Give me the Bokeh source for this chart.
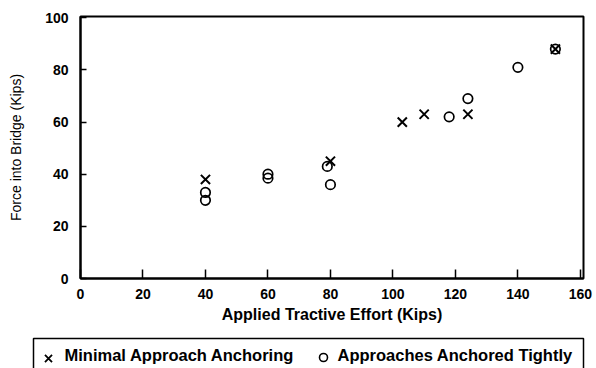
from bokeh.plotting import figure
from bokeh.models import Range1d, FixedTicker
from bokeh.layouts import column
from bokeh.core.properties import value
from bokeh.embed import file_html
from bokeh.resources import INLINE

# Data
minimal_x = [40, 80, 103, 110, 124, 152]
minimal_y = [38, 45, 60, 63, 63, 88]
tight_x = [40, 40, 60, 60, 79, 80, 118, 124, 140, 152]
tight_y = [33, 30, 40, 38.5, 43, 36, 62, 69, 81, 88]

x_ticks = [0, 20, 40, 60, 80, 100, 120, 140, 160]
y_ticks = [0, 20, 40, 60, 80, 100]

series_labels = ["Minimal Approach Anchoring", "Approaches Anchored Tightly"]

FONT = "Liberation Sans"

p = figure(width=596, height=336, output_backend="svg", toolbar_location=None,
           x_range=Range1d(0, 161), y_range=Range1d(0, 100.5),
           min_border_left=80, min_border_right=13, min_border_top=16, min_border_bottom=58)

p.background_fill_color = "white"
p.border_fill_color = "white"
p.outline_line_color = "black"
p.outline_line_width = 2
p.xgrid.visible = False
p.ygrid.visible = False

p.xaxis.ticker = FixedTicker(ticks=x_ticks)
p.yaxis.ticker = FixedTicker(ticks=y_ticks)
for ax in (p.xaxis, p.yaxis):
    ax.axis_line_color = "black"
    ax.axis_line_width = 2
    ax.major_tick_line_color = "black"
    ax.major_tick_line_width = 1.5
    ax.minor_tick_line_color = None
    ax.major_tick_out = 0
    ax.major_label_text_font = FONT
    ax.major_label_text_font_style = "bold"
    ax.major_label_text_font_size = "14px"
    ax.major_label_text_color = "black"
    ax.axis_label_text_font = FONT
    ax.axis_label_text_color = "black"

p.xaxis.major_tick_in = 9
p.yaxis.major_tick_in = 6
p.xaxis.major_label_standoff = 10
p.yaxis.major_label_standoff = 12

p.xaxis.axis_label = "Applied Tractive Effort (Kips)"
p.xaxis.axis_label_text_font_size = "16px"
p.xaxis.axis_label_text_font_style = "bold"
p.xaxis.axis_label_standoff = 4

p.yaxis.axis_label = "Force into Bridge (Kips)"
p.yaxis.axis_label_text_font_size = "14px"
p.yaxis.axis_label_text_font_style = "normal"
p.yaxis.axis_label_standoff = 18

p.scatter(minimal_x, minimal_y, marker="x", size=13, line_color="black", line_width=2)
p.scatter(tight_x, tight_y, marker="circle", size=9.5, fill_color=None,
          line_color="black", line_width=1.7)

# Legend strip drawn below the chart, in page-pixel coordinates
lg = figure(width=596, height=32, output_backend="svg", toolbar_location=None,
            x_range=Range1d(0, 596), y_range=Range1d(0, 32),
            min_border=0, min_border_left=0, min_border_right=0,
            min_border_top=0, min_border_bottom=0)
lg.frame_align = False
lg.axis.visible = False
lg.grid.visible = False
lg.outline_line_color = None
lg.background_fill_color = "white"
lg.border_fill_color = "white"
lg.quad(left=[33], right=[583], bottom=[-5], top=[30], fill_color=None,
        line_color="black", line_width=1.5)
lg.scatter([48], [10], marker="x", size=10, line_color="black", line_width=1.8)
lg.scatter([323], [11], marker="circle", size=8, fill_color=None,
           line_color="black", line_width=1.6)
lg.text(x=[64, 337], y=[14, 14], text=series_labels, text_baseline="middle",
        text_align="left", text_font=value(FONT), text_font_size="16.5px",
        text_font_style="bold", text_color="black")

layout = column(p, lg, spacing=0)
open("out.html", "w").write(file_html(layout, INLINE))
